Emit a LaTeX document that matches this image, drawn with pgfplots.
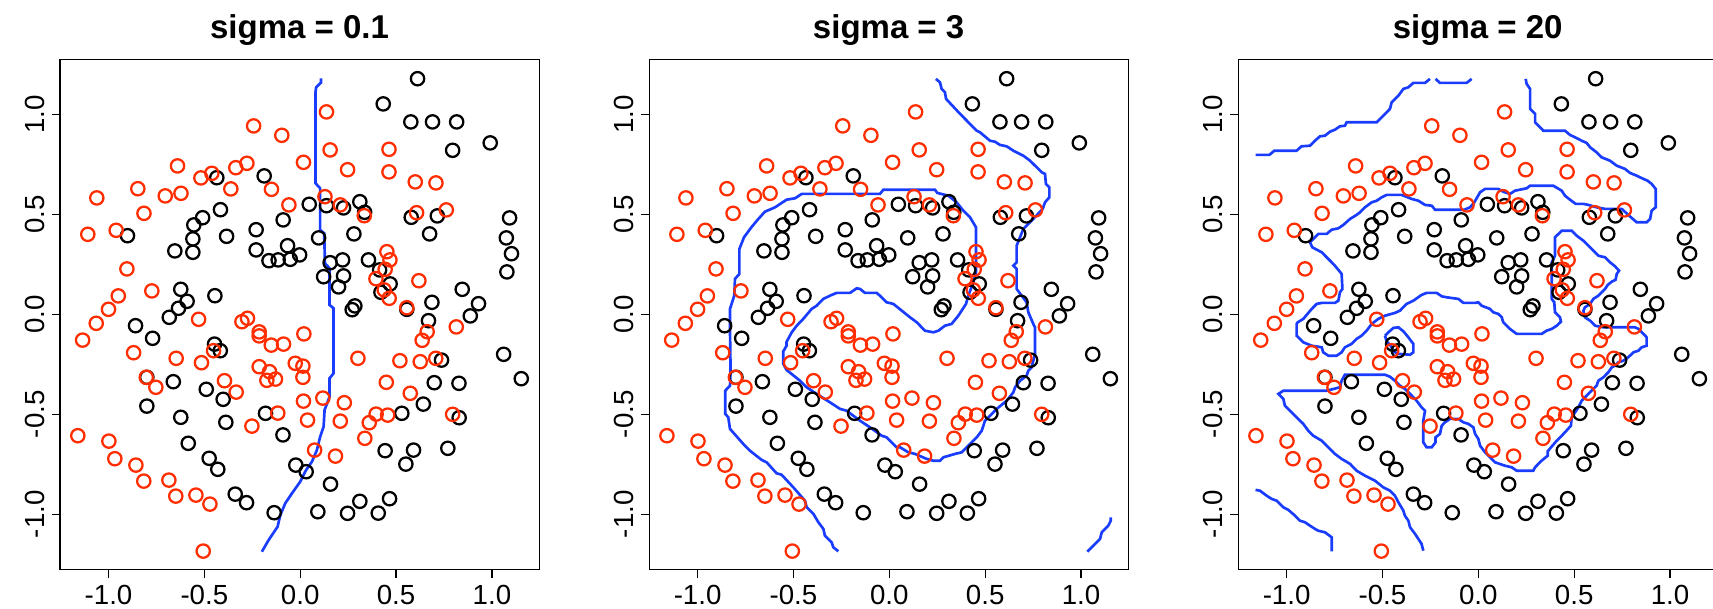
\documentclass[border=0pt]{standalone}
\usepackage{pgfplots}
\pgfplotsset{compat=1.18}
\usepackage{pgfplotstable}
\usepackage{fontspec}
\setmainfont{Liberation Sans}

\definecolor{ptred}{RGB}{255,45,0}
\definecolor{ctblue}{RGB}{25,60,255}

% class 2 points (red)
\pgfplotstableread{
x y
-0.243 0.942
-0.096 0.895
-0.640 0.742
-0.278 0.755
-0.336 0.733
-0.461 0.705
-0.518 0.682
-0.362 0.627
-0.150 0.625
-0.059 0.547
-0.847 0.628
-0.704 0.592
-0.622 0.605
-1.061 0.582
-0.815 0.505
-1.108 0.400
-0.960 0.420
-0.904 0.227
-0.774 0.117
-0.949 0.092
-1.000 0.025
-1.064 -0.045
-0.530 -0.025
-0.304 -0.037
-0.275 -0.020
-0.214 -0.088
-0.214 -0.108
0.137 1.012
0.156 0.822
0.463 0.825
0.017 0.760
0.247 0.723
0.463 0.712
0.600 0.662
0.708 0.657
0.129 0.588
0.209 0.547
0.334 0.493
0.607 0.508
0.762 0.522
0.452 0.313
0.468 0.272
0.443 0.225
0.395 0.178
0.438 0.122
0.464 0.080
0.619 0.168
0.556 0.033
0.814 -0.063
0.019 -0.098
0.662 -0.087
0.636 -0.130
-1.135 -0.129
-0.869 -0.192
-0.647 -0.220
-0.515 -0.242
-0.452 -0.182
-0.151 -0.154
-0.087 -0.149
-0.214 -0.262
-0.160 -0.287
-0.174 -0.330
-0.129 -0.324
-0.026 -0.245
-0.395 -0.332
-0.334 -0.389
-0.753 -0.365
-0.803 -0.315
-0.117 -0.494
-0.252 -0.559
-1.160 -0.607
-0.998 -0.634
-0.967 -0.722
-0.857 -0.754
-0.816 -0.834
-0.685 -0.829
-0.649 -0.909
-0.544 -0.904
-0.471 -0.949
-0.506 -1.184
0.301 -0.220
0.520 -0.232
0.626 -0.237
0.707 -0.220
0.014 -0.259
0.014 -0.315
0.017 -0.434
0.038 -0.529
0.118 -0.419
0.230 -0.442
0.209 -0.534
0.449 -0.340
0.574 -0.395
0.396 -0.499
0.456 -0.504
0.360 -0.542
0.337 -0.620
0.075 -0.679
0.184 -0.709
0.795 -0.500
}\redpts

% class 1 points (black)
\pgfplotstableread{
x y
-0.435 0.683
-0.188 0.692
-0.416 0.523
-0.509 0.483
-0.555 0.447
-0.560 0.377
-0.560 0.310
-0.654 0.317
-0.384 0.390
-0.901 0.393
-0.230 0.423
-0.089 0.472
-0.230 0.322
-0.163 0.268
-0.115 0.272
-0.066 0.343
-0.052 0.275
-0.003 0.297
-0.623 0.125
-0.590 0.065
-0.635 0.030
-0.683 -0.015
-0.445 0.093
-0.859 -0.057
-0.770 -0.120
0.612 1.178
0.433 1.052
0.577 0.962
0.690 0.962
0.816 0.962
0.795 0.820
0.991 0.857
0.047 0.550
0.137 0.543
0.226 0.532
0.311 0.563
0.336 0.510
0.579 0.485
0.715 0.492
0.675 0.402
1.092 0.482
1.075 0.382
1.102 0.303
1.078 0.212
0.096 0.382
0.280 0.402
0.156 0.258
0.221 0.272
0.356 0.272
0.122 0.188
0.226 0.192
0.200 0.137
0.414 0.222
0.469 0.152
0.421 0.110
0.285 0.042
0.271 0.023
0.556 0.025
0.845 0.125
0.687 0.060
0.930 0.053
0.887 -0.008
0.669 -0.032
-0.447 -0.149
-0.417 -0.182
-0.800 -0.315
-0.662 -0.337
-0.490 -0.375
-0.402 -0.425
-0.800 -0.459
-0.623 -0.515
-0.388 -0.540
-0.181 -0.495
-0.090 -0.603
-0.584 -0.645
-0.475 -0.720
-0.430 -0.775
-0.339 -0.899
-0.280 -0.942
-0.136 -0.992
-0.023 -0.754
0.737 -0.229
1.061 -0.200
1.153 -0.322
0.699 -0.342
0.828 -0.345
0.642 -0.449
0.530 -0.495
0.829 -0.517
0.443 -0.682
0.591 -0.679
0.770 -0.670
0.551 -0.749
0.031 -0.787
0.158 -0.849
0.311 -0.935
0.466 -0.922
0.092 -0.987
0.247 -0.995
0.407 -0.994
}\blackpts

% decision boundary, sigma = 0.1
\pgfplotstableread{
x y
0.108 1.180
0.108 1.158
0.083 1.135
0.080 1.113
0.080 0.655
0.104 0.630
0.104 0.422
0.125 0.405
0.129 0.255
0.153 0.230
0.153 0.047
0.174 0.030
0.174 -0.295
0.153 -0.320
0.153 -0.412
0.127 -0.479
0.122 -0.562
0.104 -0.612
0.087 -0.679
0.061 -0.737
0.031 -0.778
0.000 -0.837
-0.043 -0.895
-0.078 -0.945
-0.104 -1.004
-0.118 -1.062
-0.165 -1.129
-0.200 -1.187
}\bdA

% decision boundary, sigma = 3
\pgfplotstableread{
x y
-0.266 -1.185
-0.292 -1.165
-0.301 -1.140
-0.336 -1.107
-0.344 -1.073
-0.370 -1.040
-0.396 -0.998
-0.431 -0.965
-0.440 -0.932
-0.501 -0.865
-0.562 -0.802
-0.588 -0.795
-0.640 -0.740
-0.666 -0.728
-0.727 -0.682
-0.762 -0.648
-0.831 -0.573
-0.840 -0.515
-0.856 -0.498
-0.856 -0.382
-0.831 -0.357
-0.828 -0.282
-0.831 -0.082
-0.831 0.027
-0.809 0.093
-0.805 0.177
-0.782 0.202
-0.782 0.327
-0.758 0.385
-0.718 0.437
-0.683 0.477
-0.649 0.513
-0.596 0.535
-0.536 0.573
-0.492 0.580
-0.457 0.602
-0.049 0.602
-0.031 0.623
0.238 0.623
0.250 0.607
0.308 0.593
0.351 0.560
0.386 0.518
0.421 0.485
0.452 0.435
0.452 0.210
0.438 0.160
0.412 0.093
0.400 0.052
0.377 0.018
0.360 -0.007
0.325 -0.048
0.290 -0.057
0.256 -0.082
0.230 -0.090
0.186 -0.082
0.143 -0.040
0.108 -0.015
0.021 0.052
-0.014 0.060
-0.049 0.093
-0.066 0.107
-0.127 0.107
-0.153 0.127
-0.170 0.130
-0.205 0.107
-0.275 0.107
-0.310 0.093
-0.344 0.077
-0.379 0.043
-0.405 0.027
-0.449 -0.023
-0.483 -0.057
-0.509 -0.090
-0.536 -0.138
-0.536 -0.157
-0.553 -0.185
-0.553 -0.248
-0.536 -0.278
-0.466 -0.332
-0.431 -0.365
-0.379 -0.398
-0.310 -0.440
-0.257 -0.473
-0.223 -0.482
-0.153 -0.532
-0.101 -0.565
-0.040 -0.607
-0.014 -0.615
0.038 -0.665
0.056 -0.665
0.099 -0.690
0.134 -0.698
0.195 -0.723
0.230 -0.732
0.264 -0.732
0.282 -0.715
0.343 -0.698
0.377 -0.690
0.421 -0.648
0.456 -0.615
0.482 -0.582
0.499 -0.532
0.525 -0.507
0.560 -0.473
0.612 -0.432
0.647 -0.390
0.656 -0.365
0.682 -0.332
0.716 -0.307
0.725 -0.282
0.742 -0.265
0.760 -0.198
0.760 -0.065
0.755 -0.057
0.725 0.010
0.716 0.060
0.664 0.127
0.664 0.227
0.647 0.243
0.664 0.260
0.664 0.343
0.699 0.427
0.734 0.460
0.800 0.527
0.812 0.560
0.835 0.585
0.835 0.635
0.817 0.652
0.812 0.702
0.795 0.710
0.734 0.768
0.699 0.793
0.647 0.818
0.612 0.840
0.577 0.847
0.551 0.863
0.525 0.868
0.473 0.910
0.456 0.918
0.369 1.002
0.296 1.077
0.290 1.110
0.273 1.127
0.264 1.160
0.243 1.177
}\bdB

\pgfplotstableread{
x y
1.033 -1.187
1.064 -1.157
1.099 -1.123
1.108 -1.090
1.142 -1.057
1.155 -1.032
1.155 -1.015
}\bdBb

% decision boundary, sigma = 20
\pgfplotstableread{
x y
-0.287 -1.182
-0.296 -1.148
-0.313 -1.123
-0.330 -1.098
-0.356 -1.065
-0.365 -1.032
-0.383 -1.007
-0.391 -0.982
-0.417 -0.940
-0.435 -0.907
-0.461 -0.882
-0.496 -0.865
-0.539 -0.832
-0.591 -0.807
-0.635 -0.782
-0.669 -0.748
-0.713 -0.723
-0.748 -0.698
-0.782 -0.665
-0.817 -0.632
-0.861 -0.607
-0.887 -0.582
-0.913 -0.548
-0.948 -0.515
-0.974 -0.490
-1.009 -0.457
-1.017 -0.423
-1.043 -0.398
-1.017 -0.382
-0.791 -0.382
-0.722 -0.365
-0.713 -0.332
-0.696 -0.302
-0.487 -0.302
-0.461 -0.312
-0.435 -0.332
-0.409 -0.357
-0.383 -0.373
-0.356 -0.398
-0.322 -0.432
-0.296 -0.465
-0.278 -0.482
-0.287 -0.532
-0.287 -0.640
-0.270 -0.665
-0.243 -0.665
-0.223 -0.640
-0.223 -0.615
-0.200 -0.598
-0.191 -0.557
-0.174 -0.540
-0.148 -0.523
-0.104 -0.523
-0.078 -0.540
-0.052 -0.548
-0.026 -0.565
-0.017 -0.598
0.000 -0.623
0.009 -0.657
0.035 -0.690
0.061 -0.715
0.087 -0.740
0.139 -0.757
0.174 -0.765
0.200 -0.782
0.287 -0.782
0.296 -0.765
0.330 -0.732
0.362 -0.707
0.362 -0.685
0.379 -0.665
0.409 -0.632
0.435 -0.607
0.452 -0.590
0.483 -0.557
0.487 -0.515
0.522 -0.465
0.539 -0.432
0.565 -0.407
0.591 -0.382
0.617 -0.357
0.626 -0.332
0.652 -0.315
0.678 -0.290
0.696 -0.265
0.713 -0.257
0.730 -0.240
0.756 -0.232
0.782 -0.215
0.809 -0.190
0.835 -0.182
0.852 -0.165
0.878 -0.157
0.878 -0.115
0.861 -0.098
0.835 -0.073
0.817 -0.065
0.652 -0.065
0.609 -0.057
0.583 -0.032
0.556 -0.015
0.548 0.018
0.556 0.035
0.583 0.052
0.600 0.077
0.626 0.093
0.661 0.127
0.675 0.147
0.696 0.163
0.716 0.173
0.722 0.202
0.734 0.218
0.713 0.240
0.687 0.260
0.661 0.285
0.626 0.293
0.591 0.327
0.548 0.368
0.513 0.393
0.487 0.418
0.435 0.418
0.400 0.385
0.400 0.293
0.383 0.260
0.383 0.077
0.396 0.060
0.400 0.010
0.426 -0.015
0.431 -0.037
0.409 -0.057
0.383 -0.073
0.356 -0.082
0.330 -0.098
0.200 -0.098
0.165 -0.073
0.130 -0.040
0.122 -0.015
0.104 0.002
0.078 0.010
0.061 0.027
0.017 0.043
0.000 0.060
-0.017 0.057
-0.078 0.057
-0.104 0.077
-0.165 0.085
-0.191 0.090
-0.217 0.107
-0.270 0.107
-0.296 0.097
-0.339 0.068
-0.374 0.052
-0.409 0.018
-0.435 0.007
-0.487 -0.007
-0.522 -0.023
-0.556 -0.048
-0.583 -0.082
-0.609 -0.107
-0.635 -0.123
-0.661 -0.148
-0.696 -0.165
-0.713 -0.190
-0.739 -0.207
-0.782 -0.207
-0.809 -0.190
-0.817 -0.165
-0.869 -0.157
-0.913 -0.140
-0.948 -0.107
-0.948 -0.048
-0.942 -0.040
-0.913 -0.023
-0.869 0.027
-0.843 0.052
-0.817 0.057
-0.748 0.057
-0.730 0.068
-0.722 0.110
-0.709 0.127
-0.713 0.202
-0.748 0.243
-0.765 0.260
-0.817 0.310
-0.866 0.335
-0.878 0.360
-0.861 0.377
-0.835 0.402
-0.791 0.402
-0.765 0.423
-0.730 0.430
-0.704 0.447
-0.669 0.477
-0.635 0.497
-0.617 0.510
-0.591 0.535
-0.556 0.560
-0.530 0.568
-0.504 0.585
-0.478 0.597
-0.400 0.597
-0.348 0.577
-0.313 0.568
-0.278 0.547
-0.243 0.543
-0.226 0.523
-0.073 0.523
-0.043 0.535
-0.021 0.560
0.009 0.610
0.035 0.627
0.104 0.627
0.130 0.613
0.165 0.602
0.191 0.618
0.252 0.630
0.270 0.643
0.391 0.643
0.435 0.618
0.452 0.593
0.478 0.573
0.508 0.552
0.548 0.552
0.574 0.547
0.617 0.535
0.661 0.527
0.748 0.527
0.796 0.485
0.826 0.460
0.878 0.460
0.896 0.477
0.904 0.518
0.925 0.535
0.925 0.627
0.904 0.652
0.883 0.668
0.861 0.677
0.826 0.693
0.791 0.707
0.765 0.727
0.722 0.743
0.687 0.768
0.643 0.785
0.617 0.810
0.583 0.835
0.565 0.857
0.539 0.868
0.504 0.885
0.478 0.897
0.452 0.918
0.339 0.918
0.296 0.960
0.296 1.002
0.270 1.027
0.270 1.127
0.252 1.152
0.247 1.177
}\bdC

\pgfplotstableread{
x y
-1.162 0.797
-1.090 0.797
-1.064 0.818
-0.948 0.818
-0.922 0.840
-0.878 0.843
-0.852 0.868
-0.826 0.890
-0.800 0.893
-0.774 0.913
-0.748 0.923
-0.722 0.940
-0.696 0.943
-0.687 0.960
-0.530 0.960
-0.504 0.985
-0.461 1.027
-0.452 1.060
-0.417 1.093
-0.391 1.127
-0.365 1.135
-0.339 1.157
-0.278 1.157
-0.252 1.177
}\bdCtop

\pgfplotstableread{
x y
-0.223 1.177
-0.200 1.157
-0.061 1.157
-0.035 1.177
}\bdCcup

\pgfplotstableread{
x y
-0.487 -0.107
-0.478 -0.135
-0.457 -0.157
-0.443 -0.185
-0.417 -0.198
-0.356 -0.202
-0.339 -0.190
-0.339 -0.148
-0.365 -0.115
-0.391 -0.085
-0.417 -0.065
-0.443 -0.068
-0.469 -0.090
-0.487 -0.107
}\bdCloop

\pgfplotstableread{
x y
-1.162 -0.878
-1.139 -0.882
-1.104 -0.907
-1.078 -0.923
-1.052 -0.932
-1.017 -0.965
-0.991 -0.978
-0.956 -1.007
-0.930 -1.032
-0.904 -1.040
-0.878 -1.057
-0.852 -1.073
-0.835 -1.082
-0.800 -1.090
-0.765 -1.115
-0.765 -1.185
}\bdCcorner

\pgfplotsset{
  svmpanel/.style={
    scale only axis, width=143.73pt, height=153pt,
    anchor=south west,
    xmin=-1.253, xmax=1.246, ymin=-1.278, ymax=1.272,
    xtick={-1,-0.5,0,0.5,1}, xticklabels={-1.0,-0.5,0.0,0.5,1.0},
    ytick={-1,-0.5,0,0.5,1}, yticklabels={-1.0,-0.5,0.0,0.5,1.0},
    tick pos=left, tick align=outside, major tick length=2.5pt,
    axis line style={line width=0.35pt},
    every tick/.style={black, line width=0.35pt},
    ticklabel style={font=\fontsize{8.3}{9}\selectfont},
    xticklabel style={anchor=base}, xticklabel shift=7.8pt,
    yticklabel style={rotate=90, anchor=base}, yticklabel shift=2.3pt,
    title style={font=\bfseries\fontsize{9.9}{11}\selectfont, anchor=base, yshift=0.3pt},
  },
  redpt/.style={only marks, mark=o, mark size=2.0pt, color=ptred, mark options={line width=0.68pt}},
  blackpt/.style={only marks, mark=o, mark size=2.0pt, color=black, mark options={line width=0.68pt}},
  bound/.style={ctblue, line width=0.8pt, mark=none},
}

\begin{document}
\begin{tikzpicture}
\begin{axis}[svmpanel, at={(18pt,11.43pt)}, title={sigma = 0.1}]
  \addplot[blackpt] table {\blackpts};
  \addplot[redpt] table {\redpts};
  \addplot[bound] table {\bdA};
\end{axis}
\begin{axis}[svmpanel, at={(194.73pt,11.43pt)}, title={sigma = 3}]
  \addplot[blackpt] table {\blackpts};
  \addplot[redpt] table {\redpts};
  \addplot[bound] table {\bdB};
  \addplot[bound] table {\bdBb};
\end{axis}
\begin{axis}[svmpanel, at={(371.43pt,11.43pt)}, title={sigma = 20}]
  \addplot[blackpt] table {\blackpts};
  \addplot[redpt] table {\redpts};
  \addplot[bound] table {\bdC};
  \addplot[bound] table {\bdCtop};
  \addplot[bound] table {\bdCcup};
  \addplot[bound] table {\bdCloop};
  \addplot[bound] table {\bdCcorner};
\end{axis}
\pgfresetboundingbox
\path[use as bounding box] (0,0) rectangle (513.9pt,182.4pt);
\end{tikzpicture}
\end{document}
